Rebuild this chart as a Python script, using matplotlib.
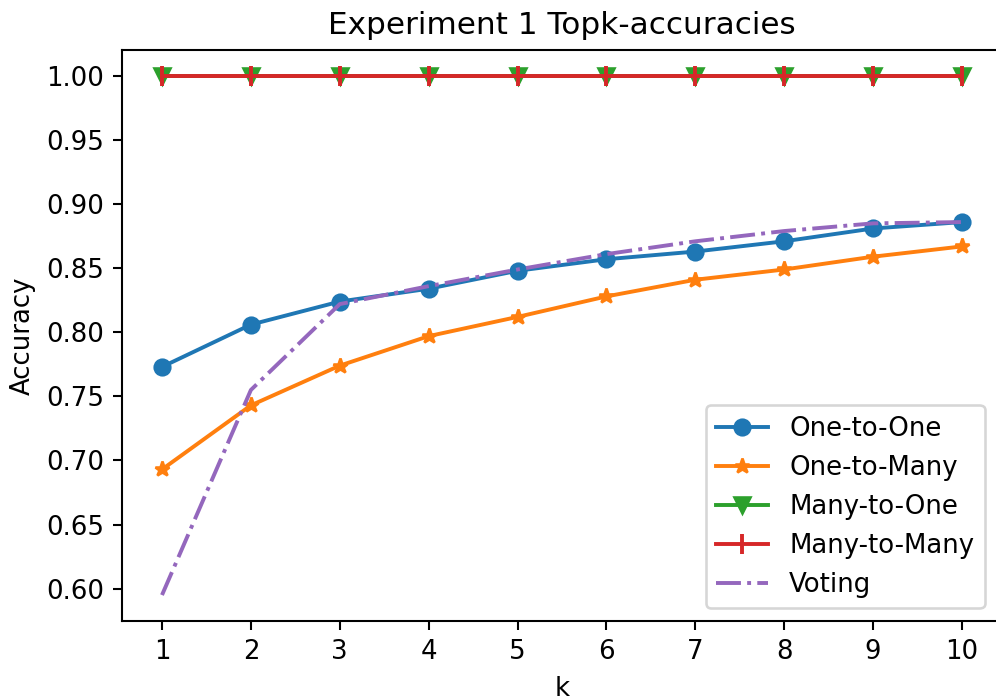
import numpy as np
import matplotlib
matplotlib.use("Agg")
import matplotlib.pyplot as plt

# top-k values
k = [1, 2, 3, 4, 5, 6, 7, 8, 9, 10]
one_to_one = [0.773, 0.806, 0.824, 0.834, 0.848, 0.857, 0.863, 0.871, 0.881, 0.886]
one_to_many = [0.693, 0.743, 0.774, 0.797, 0.812, 0.828, 0.841, 0.849, 0.859, 0.867]
many_to_one = [1.0] * 10
many_to_many = [1.0] * 10
voting = [0.595, 0.755, 0.822, 0.836, 0.849, 0.861, 0.871, 0.879, 0.885, 0.886]

dpi = 187
fig = plt.figure(figsize=(996 / dpi, 699 / dpi), dpi=dpi)
ax = fig.add_axes([122 / 996, 78 / 699, 880 / 996, 571 / 699])

ax.plot(k, one_to_one, marker='o', label='One-to-One')
ax.plot(k, one_to_many, marker='*', label='One-to-Many')
ax.plot(k, many_to_one, marker='v', label='Many-to-One')
ax.plot(k, many_to_many, marker='|', markersize=8, markeredgewidth=1.5, label='Many-to-Many')
ax.plot(k, voting, linestyle='-.', label='Voting')

ax.set_xticks(k)
ax.set_xlabel('k')
ax.set_ylabel('Accuracy')
ax.set_title('Experiment 1 Topk-accuracies')
ax.legend(loc='lower right', bbox_to_anchor=(0.995, 0.0))

fig.savefig('out.png', dpi=dpi)
